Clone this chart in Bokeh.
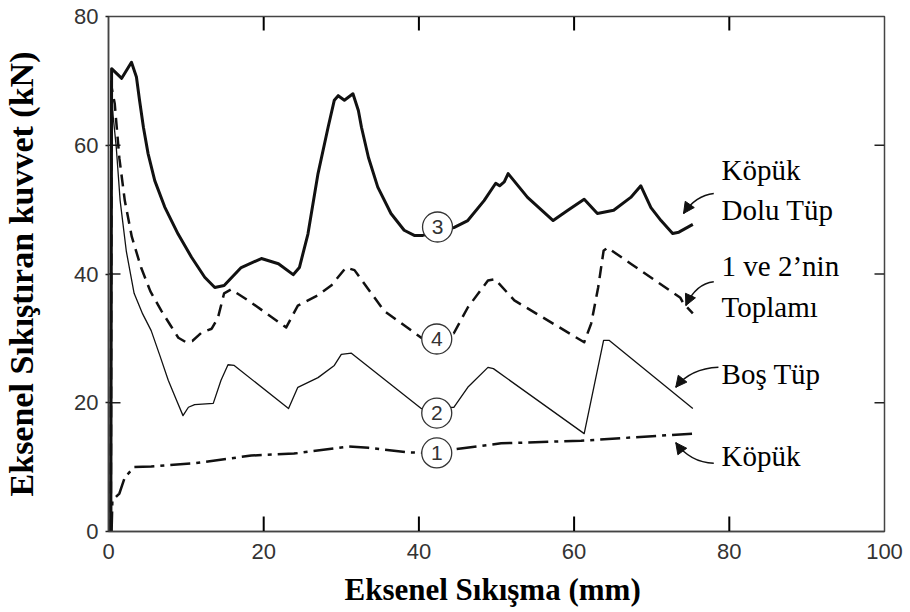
import math
from bokeh.plotting import figure
from bokeh.models import FixedTicker, Label, Arrow, NormalHead, ColumnDataSource
from bokeh.core.properties import value
from bokeh.embed import file_html
from bokeh.resources import INLINE

# Curve 3: Köpük dolu tüp (foam-filled tube)
filled_x = [0.3, 0.4, 1.7, 2.96, 3.6, 4.0, 4.5, 5.1, 5.96, 7.25, 8.97, 10.7, 12.4, 13.7, 14.9, 17.1, 19.7, 21.9,
            23.8, 24.6, 25.7, 27.0, 28.3, 29.1, 29.6, 30.4, 31.5, 32.2, 32.6, 33.5, 34.7, 36.4, 38.1, 39.4,
            40.5, 44.5, 46.3, 48.4, 49.9, 50.4, 51.0, 51.5, 54.0, 57.3, 59.2, 61.3, 63.0, 65.1, 67.3, 68.6,
            69.9, 71.2, 72.7, 73.5, 75.3]
filled_y = [0.0, 71.9, 70.4, 72.9, 70.6, 67.0, 62.8, 58.7, 54.5, 50.4, 46.2, 42.6, 39.5, 37.9, 38.2, 41.0, 42.4, 41.6,
            39.9, 41.0, 46.2, 55.6, 62.8, 67.0, 67.7, 67.0, 68.0, 65.4, 62.8, 58.1, 53.5, 49.4, 46.8, 46.0,
            46.0, 47.2, 48.3, 51.4, 54.1, 53.7, 54.3, 55.6, 51.9, 48.3, 49.9, 51.6, 49.4, 49.9, 51.9, 53.7,
            50.3, 48.3, 46.3, 46.5, 47.7]

# Curve 4: 1 ve 2'nin toplamı (sum of 1 and 2)
sum_x = [0.3, 0.4, 0.8, 1.4, 2.1, 3.0, 4.2, 5.4, 6.8, 8.0, 9.0, 10.0, 10.8, 12.0, 13.3, 14.1, 14.9, 15.8, 18.0,
         22.9, 24.4, 27.0, 28.7, 30.6, 31.7, 35.5, 40.3, 44.5, 46.3, 48.9, 49.8, 52.3, 61.3, 62.2, 63.1,
         63.8, 64.3, 67.3, 73.7, 74.1, 75.3]
sum_y = [0.0, 69.0, 66.5, 58.0, 51.4, 45.8, 41.0, 37.3, 34.3, 32.0, 30.1, 29.4, 29.6, 30.9, 31.5, 33.2, 37.0, 37.6, 35.9,
         31.7, 35.1, 36.7, 38.2, 41.0, 40.6, 34.3, 30.1, 30.8, 34.8, 39.0, 39.2, 35.9, 29.4, 32.3, 37.9,
         43.6, 44.1, 41.6, 36.3, 35.4, 33.9]

# Curve 2: Boş tüp (empty tube)
empty_x = [0.2, 0.3, 0.6, 1.0, 1.5, 2.3, 3.3, 4.4, 5.5, 6.6, 7.7, 8.7, 9.6, 10.3, 11.1, 13.5, 14.5, 15.4, 16.2,
           23.2, 24.4, 27.0, 29.1, 30.0, 31.3, 40.3, 44.5, 46.3, 48.9, 49.6, 61.3, 63.8, 64.5, 75.3]
empty_y = [0.0, 70.0, 64.5, 59.7, 51.4, 43.5, 37.0, 33.8, 31.2, 27.4, 23.5, 20.6, 18.0, 19.3, 19.7, 19.9, 23.5, 25.9, 25.8,
           19.1, 22.4, 23.9, 25.8, 27.5, 27.7, 19.1, 19.3, 22.4, 25.5, 25.3, 15.2, 29.7, 29.7, 19.1]

# Curve 1: Köpük (foam)
foam_x = [0.4, 0.5, 1.4, 2.1, 3.3, 5.5, 11.1, 18.4, 23.9, 30.9, 33.5, 38.6, 41.0, 45.4, 50.6, 60.9, 75.3]
foam_y = [0.0, 4.8, 5.9, 8.4, 10.0, 10.1, 10.6, 11.8, 12.1, 13.2, 13.0, 12.3, 12.2, 12.9, 13.7, 14.1, 15.2]

# Circled curve numbers
marker_labels = ["3", "4", "2", "1"]
marker_x = [42.4, 42.3, 42.3, 42.3]
marker_y = [47.3, 29.9, 18.4, 12.2]

x_ticks = [0, 20, 40, 60, 80, 100]
y_ticks = [0, 20, 40, 60, 80]
inner_x_ticks = [20, 40, 60, 80]
inner_y_ticks = [20, 40, 60]

X_MIN, X_MAX, Y_MIN, Y_MAX = 0, 100, 0, 80
W, H = 910, 612
B_LEFT, B_TOP, B_RIGHT, B_BOTTOM = 107, 16, 26, 81
FRAME_H = H - B_TOP - B_BOTTOM
PX_Y = (Y_MAX - Y_MIN) / FRAME_H  # data units per screen pixel (vertical)

INK = "#111111"
AX = "#444444"

p = figure(width=W, height=H, x_range=(X_MIN, X_MAX), y_range=(Y_MIN, Y_MAX),
           output_backend="svg", toolbar_location=None,
           min_border_left=B_LEFT, min_border_top=B_TOP, min_border_right=B_RIGHT, min_border_bottom=B_BOTTOM)
p.grid.visible = False
p.outline_line_color = AX
p.outline_line_width = 1.5
p.background_fill_color = "white"
p.border_fill_color = "white"

# Inward tick marks on all four sides
n = len(inner_x_ticks)
bottom_ticks = p.segment(x0=inner_x_ticks, y0=[Y_MIN + 0.5 * PX_Y] * n, x1=inner_x_ticks,
                         y1=[Y_MIN + 15 * PX_Y] * n, line_color="black", line_width=2)
top_ticks = p.segment(x0=inner_x_ticks, y0=[Y_MAX - 0.5 * PX_Y] * n, x1=inner_x_ticks,
                      y1=[Y_MAX - 14 * PX_Y] * n, line_color="black", line_width=2)
bottom_ticks.level = "overlay"
top_ticks.level = "overlay"
tick_kw = dict(line_color="#222222", line_width=1.5, length_units="screen")
p.ray([X_MIN] * len(inner_y_ticks), inner_y_ticks, length=12, angle=0, **tick_kw)
p.ray([X_MAX] * len(inner_y_ticks), inner_y_ticks, length=10, angle=math.pi, **tick_kw)

p.line(filled_x, filled_y, line_color=INK, line_width=3, line_join="round")
p.line(sum_x, sum_y, line_color=INK, line_width=2.5, line_dash="12 7", line_join="round")
p.line(empty_x, empty_y, line_color=INK, line_width=1.3, line_join="round")
p.line(foam_x, foam_y, line_color=INK, line_width=2.5, line_dash="20 6 4 6", line_join="round")

src = ColumnDataSource(dict(x=marker_x, y=marker_y, t=marker_labels))
p.scatter("x", "y", source=src, size=30, fill_color="white", line_color="#333333", line_width=1.3)
p.text("x", "y", text="t", source=src, text_align="center", text_baseline="middle",
       text_font=value("Liberation Sans"), text_font_size="21px", text_color="#333333")

# Axes styling
for ax in (p.xaxis[0], p.yaxis[0]):
    ax.axis_line_color = AX
    ax.axis_line_width = 1.5
    ax.major_tick_line_color = "#222222"
    ax.major_tick_line_width = 1.5
    ax.major_tick_in = 0
    ax.minor_tick_line_color = None
    ax.major_label_text_font = "Liberation Sans"
    ax.major_label_text_font_size = "22px"
    ax.major_label_text_color = "#333333"
    ax.axis_label_text_font = "Liberation Serif"
    ax.axis_label_text_font_style = "bold"
    ax.axis_label_text_color = "black"

p.xaxis[0].ticker = FixedTicker(ticks=x_ticks)
p.xaxis[0].major_tick_out = 0
p.xaxis[0].major_label_standoff = 12
p.xaxis[0].axis_label = "Eksenel Sıkışma  (mm)"
p.xaxis[0].axis_label_text_font_size = "31px"
p.xaxis[0].axis_label_standoff = 10

p.yaxis[0].ticker = FixedTicker(ticks=y_ticks)
p.yaxis[0].major_tick_out = 3
p.yaxis[0].major_label_standoff = 7
p.yaxis[0].axis_label = "Eksenel Sıkıştıran kuvvet (kN)"
p.yaxis[0].axis_label_text_font_size = "34px"
p.yaxis[0].axis_label_standoff = 31

# Annotation texts
notes = [("Köpük", 79.0, 56.1), ("Dolu Tüp", 79.0, 50.0), ("1 ve 2’nin", 79.0, 41.2),
         ("Toplamı", 79.0, 34.8), ("Boş Tüp", 79.0, 24.5), ("Köpük", 79.0, 11.8)]
for t, x, y in notes:
    p.add_layout(Label(x=x, y=y, text=t, text_font="Liberation Serif", text_font_size="29px",
                       text_color="black", text_baseline="alphabetic", text_align="left"))

# Curved arrows: (tail x, tail y, control x, control y, head x, head y)
arrows = [(78.0, 52.5, 75.7, 52.2, 74.1, 49.4),
          (78.0, 38.8, 75.7, 38.5, 74.4, 35.1),
          (78.6, 25.5, 75.0, 25.3, 73.1, 22.4),
          (78.0, 10.6, 75.0, 10.7, 73.1, 13.8)]
for x0, y0, cx, cy, x1, y1 in arrows:
    p.quadratic(x0=[x0], y0=[y0], cx=[cx], cy=[cy], x1=[x1], y1=[y1], line_color=INK, line_width=1.5)
    p.add_layout(Arrow(end=NormalHead(size=11, fill_color=INK, line_color=INK),
                       x_start=cx + (x1 - cx) * 0.6, y_start=cy + (y1 - cy) * 0.6,
                       x_end=x1, y_end=y1, line_color=INK, line_width=1.5))

open("out.html", "w").write(file_html(p, INLINE))
